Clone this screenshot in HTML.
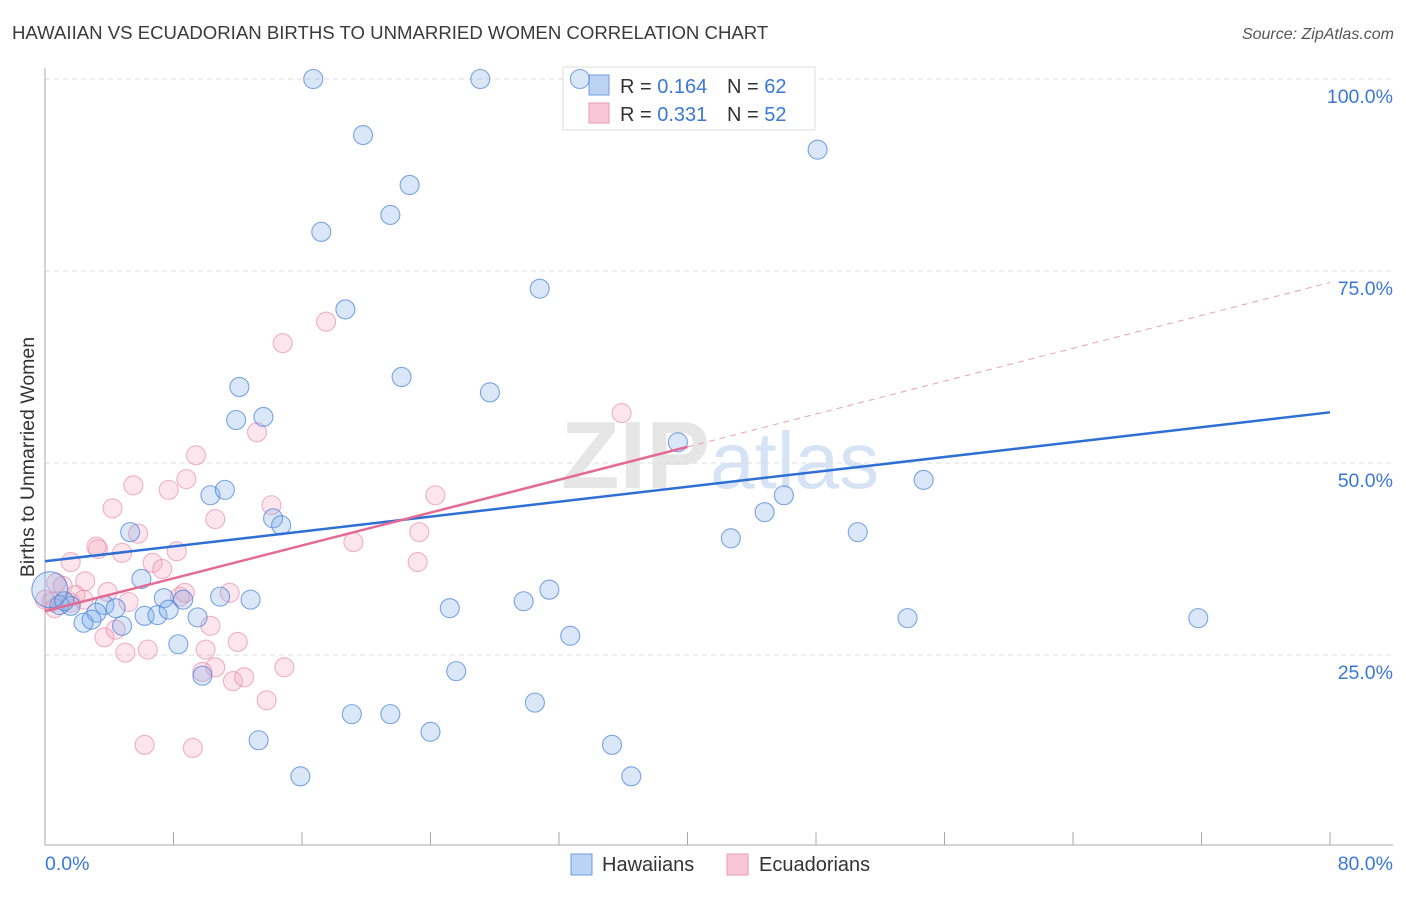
<!DOCTYPE html>
<html><head><meta charset="utf-8"><style>
body{margin:0;background:#fff;font-family:"Liberation Sans",sans-serif}
svg text{font-family:"Liberation Sans",sans-serif}
</style></head><body>
<svg id="chart" width="1406" height="892" viewBox="0 0 1406 892" xmlns="http://www.w3.org/2000/svg">
<text x="12" y="39" font-size="18.6" fill="#3a3a3a">HAWAIIAN VS ECUADORIAN BIRTHS TO UNMARRIED WOMEN CORRELATION CHART</text>
<text x="1394" y="39" font-size="16" fill="#555" text-anchor="end" font-style="italic">Source: ZipAtlas.com</text>
<text x="720" y="488" font-size="96" text-anchor="middle" fill="#e6e6e6" font-family="Liberation Serif" font-weight="bold">ZIP<tspan fill="#d5e3f5" font-family="Liberation Sans" font-weight="normal" font-size="80">atlas</tspan></text>
<g id="grid"></g>
<g id="axes"></g>
<g>
<rect x="563" y="67" width="252" height="63" fill="#fff" stroke="#ddd"/>
<rect x="589" y="75" width="20" height="20" fill="#bcd3f3" stroke="#6d9de0"/>
<rect x="589" y="103" width="20" height="20" fill="#f8c6d6" stroke="#eb9ab4"/>
<text x="620" y="93" font-size="20" fill="#333">R = <tspan fill="#3a78d8">0.164</tspan></text>
<text x="727" y="93" font-size="20" fill="#333">N = <tspan fill="#3a78d8">62</tspan></text>
<text x="620" y="121" font-size="20" fill="#333">R = <tspan fill="#3a78d8">0.331</tspan></text>
<text x="727" y="121" font-size="20" fill="#333">N = <tspan fill="#3a78d8">52</tspan></text>
</g>
<g id="pts"></g>
<g id="trend"></g>
<text transform="translate(34,457) rotate(-90)" font-size="19.5" fill="#333" text-anchor="middle">Births to Unmarried Women</text>
<g>
<rect x="571" y="854" width="21" height="21" fill="#bcd3f3" stroke="#6d9de0"/>
<text x="602" y="871" font-size="20" fill="#333">Hawaiians</text>
<rect x="727" y="854" width="21" height="21" fill="#f8c6d6" stroke="#eb9ab4"/>
<text x="759" y="871" font-size="20" fill="#333">Ecuadorians</text>
</g>
</svg>
<script>
const blueX=[16.7,27.1,33.3,19.8,48.1,22.7,21.5,17.2,30.8,18.7,22.2,12.1,27.7,11.9,13.6,39.4,54.7,10.3,11.2,46.0,44.8,14.2,14.7,5.3,50.6,42.7,6.0,31.4,10.9,12.8,7.4,8.6,29.8,25.2,3.7,4.4,1.6,0.9,3.2,6.2,7.0,7.7,9.5,2.4,2.9,4.8,32.7,53.7,71.8,8.3,25.6,9.8,30.5,19.1,21.5,24.0,13.3,35.3,15.9,36.5,0.3,1.2];
const blueY=[100,100,100,92.7,90.8,86.2,82.3,80.1,72.7,70.0,61.2,59.9,59.2,55.6,56.0,52.7,47.8,45.8,46.5,45.8,43.6,42.8,41.9,41.0,41.0,40.2,34.9,33.5,32.6,32.2,32.4,32.2,32.0,31.1,31.5,31.1,31.4,31.5,30.5,30.1,30.2,30.9,29.9,29.2,29.6,28.8,27.5,29.8,29.8,26.4,22.9,22.3,18.8,17.3,17.3,15.0,13.9,13.3,9.2,9.2,33.5,32.0];
const pinkX=[14.8,17.5,13.2,35.9,9.4,8.8,5.5,7.7,24.3,4.2,14.1,10.6,5.8,23.3,19.2,3.3,4.8,8.2,1.6,6.7,7.3,23.2,2.5,1.1,0.7,3.9,1.9,5.2,8.4,8.7,11.5,1.6,2.4,0.4,0.6,3.7,4.4,10.3,12.0,10.0,5.0,6.4,10.6,9.8,11.7,12.4,14.9,13.8,6.2,9.2,3.2,0];
const pinkY=[65.6,68.4,54.0,56.5,51.0,47.9,47.1,46.5,45.8,44.1,44.5,42.7,40.8,41.0,39.7,38.8,38.3,38.5,37.1,37.0,36.2,37.1,34.6,34.0,34.4,33.2,32.8,31.9,32.6,33.1,33.1,31.8,32.2,31.9,31.1,27.3,28.3,28.8,26.7,25.7,25.3,25.7,23.4,22.8,21.6,22.1,23.4,19.1,13.3,12.9,39.1,32.2];
const blueTrend=[37.2,56.6];
const pinkTrend=[30.7,73.5];
const yTicks=[25,50,75,100];
const xTickLabels=["0.0%","80.0%"];
const NS="http://www.w3.org/2000/svg";
const X=v=>45+v*1285/80, Y=v=>847-v*7.68;
function mk(t,a,p){const e=document.createElementNS(NS,t);for(const k in a)e.setAttribute(k,a[k]);p.appendChild(e);return e;}
const grid=document.getElementById('grid'),axes=document.getElementById('axes');
yTicks.forEach(t=>{
 const l=mk('line',{x1:45,x2:1393,y1:Y(t),y2:Y(t),stroke:'#ddd','stroke-dasharray':'5,4'},grid);
 
 
 const tx=mk('text',{x:1393,y:Y(t)+24,'font-size':19.5,fill:'#3a78d8','text-anchor':'end'},axes);
 tx.textContent=t.toFixed(1)+'%';
 
 
});
mk('line',{x1:45,x2:45,y1:68,y2:845,stroke:'#aaa'},axes);
mk('line',{x1:45,x2:1393,y1:845,y2:845,stroke:'#aaa'},axes);
for(let i=1;i<=10;i++){mk('line',{x1:X(i*8),x2:X(i*8),y1:832,y2:845,stroke:'#aaa'},axes);}
const t0=mk('text',{x:45,y:870,'font-size':19.5,fill:'#3a78d8'},axes);t0.textContent=xTickLabels[0];


const t1=mk('text',{x:1393,y:870,'font-size':19.5,fill:'#3a78d8','text-anchor':'end'},axes);t1.textContent=xTickLabels[1];


const pts=document.getElementById('pts');
pinkX.forEach((x,i)=>{const c=mk('circle',{cx:X(x),cy:Y(pinkY[i]),r:9.5,fill:'rgba(244,160,188,0.28)',stroke:'rgba(232,130,165,0.6)','stroke-width':1.1},pts);
 
 });
blueX.forEach((x,i)=>{const c=mk('circle',{cx:X(x),cy:Y(blueY[i]),r:i==60?18:9.5,fill:'rgba(120,170,235,0.28)',stroke:'rgba(70,130,215,0.7)','stroke-width':1.1},pts);
 
 });
const tr=document.getElementById('trend');
const bl=mk('line',{x1:X(0),y1:Y(blueTrend[0]),x2:X(80),y2:Y(blueTrend[1]),stroke:'#2e6fd6','stroke-width':2.5},tr);


const pm=pinkTrend[0]+(pinkTrend[1]-pinkTrend[0])*40/80;
const pl=mk('line',{x1:X(0),y1:Y(pinkTrend[0]),x2:X(40),y2:Y(pm),stroke:'#e46a95','stroke-width':2.5},tr);


const pd=mk('line',{x1:X(40),y1:Y(pm),x2:X(80),y2:Y(pinkTrend[1]),stroke:'#eaa0b8','stroke-width':1,'stroke-dasharray':'6,5'},tr);


</script>
</body></html>
